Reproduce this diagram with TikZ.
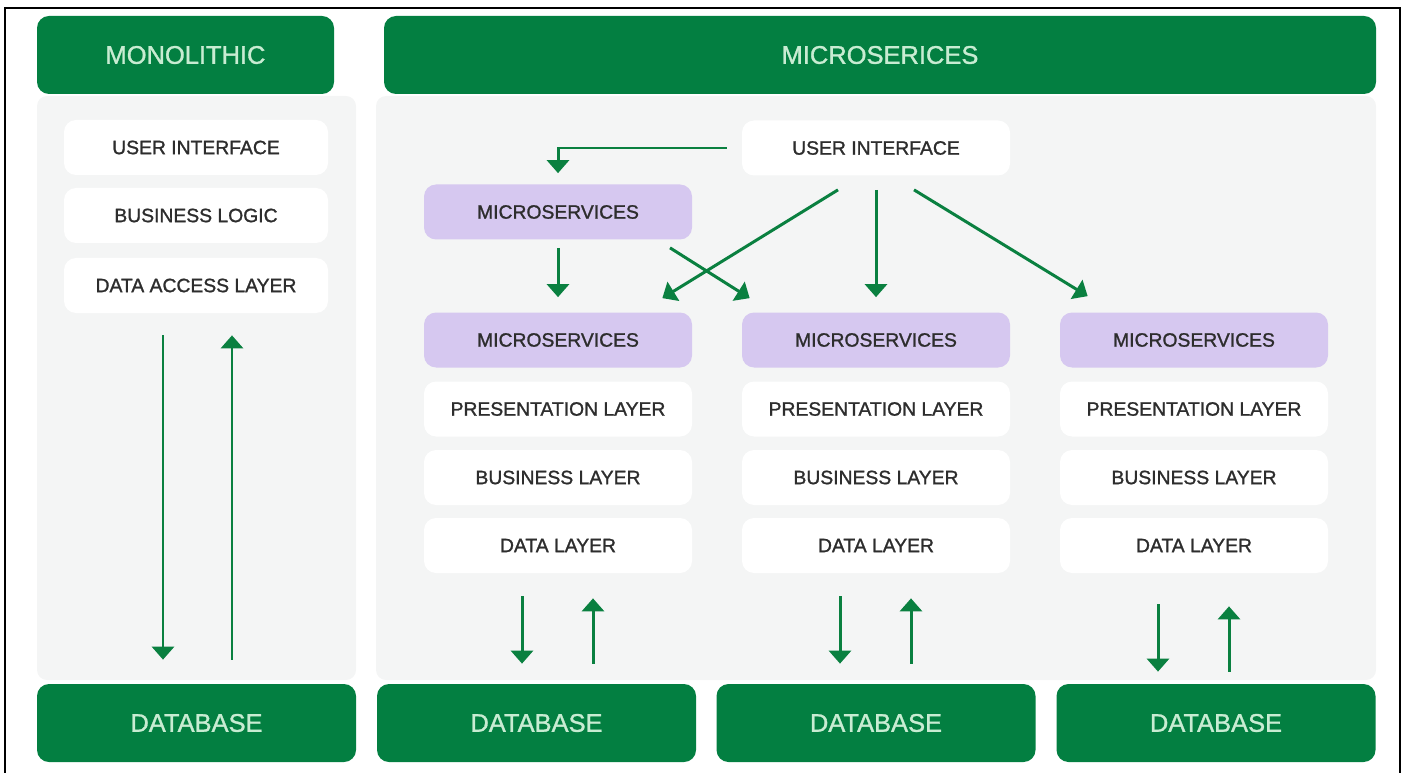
\documentclass[tikz,border=0pt]{standalone}
\usepackage{fontspec}
\setmainfont{Liberation Sans}
\newfontfamily\diagfont{Liberation Sans}[FakeBold=1.2]
\usetikzlibrary{arrows.meta}
\definecolor{hdrgreen}{RGB}{3,127,65}
\definecolor{hdrtext}{RGB}{200,236,210}
\definecolor{panelgray}{RGB}{244,245,245}
\definecolor{mspurple}{RGB}{214,200,240}
\definecolor{labelgray}{RGB}{45,45,45}
\definecolor{arrowgreen}{RGB}{10,128,64}
\newlength{\px}
\setlength{\px}{0.02cm}

\begin{document}
\begin{tikzpicture}[x=0.02cm, y=-0.02cm,
  header/.style={fill=hdrgreen, text=hdrtext, rounded corners=12\px, minimum height=78\px, inner sep=0pt, font=\diagfont\fontsize{14.5}{17}\selectfont},
  layer/.style={fill=white, text=labelgray, rounded corners=12\px, minimum width=268\px, minimum height=55\px, inner sep=0pt, font=\diagfont\fontsize{11}{13}\selectfont},
  service/.style={layer, fill=mspurple},
  flow/.style={draw=arrowgreen, line width=1.7pt, -{Triangle[length=0.26cm,width=0.44cm]}}]
  \useasboundingbox (0,0) rectangle (1405,773);
  \draw[line width=2\px] (5,773) -- (5,8) -- (1400,8) -- (1400,773);
  \fill[panelgray, rounded corners=10\px] (37,96) rectangle (356,680);
  \fill[panelgray, rounded corners=10\px] (376,96) rectangle (1376,680);

  \node[header, minimum width=297\px] (mono) at (185.5,55) {MONOLITHIC};
  \node[header, minimum width=992\px] (micro) at (880,55) {MICROSERICES};

  \node[layer, minimum width=264\px] (mui) at (196,147.5) {USER INTERFACE};
  \node[layer, minimum width=264\px] (mbl) at (196,215.5) {BUSINESS LOGIC};
  \node[layer, minimum width=264\px] (mdal) at (196,285.5) {DATA ACCESS LAYER};
  \node[header, minimum width=319\px] (db0) at (196.5,723) {DATABASE};

  \node[layer] (ui) at (876,148) {USER INTERFACE};
  \node[service] (ms0) at (558,212) {MICROSERVICES};
  \foreach \c/\x in {1/558, 2/876, 3/1194} {
    \node[service] (ms\c) at (\x,340) {MICROSERVICES};
    \node[layer] (pl\c) at (\x,409) {PRESENTATION LAYER};
    \node[layer] (bl\c) at (\x,477.5) {BUSINESS LAYER};
    \node[layer] (dl\c) at (\x,545.5) {DATA LAYER};
  }
  \foreach \c/\x in {1/536.5, 2/876, 3/1216}
    \node[header, minimum width=319\px] (db\c) at (\x,723) {DATABASE};

  \draw[flow, shorten <=22\px, shorten >=24\px] ([xshift=-33\px]mdal.south) -- ([xshift=-33\px]mdal.south |- db0.north);
  \draw[flow, shorten <=24\px, shorten >=22\px] ([xshift=36\px]mdal.south |- db0.north) -- ([xshift=36\px]mdal.south);

  \draw[flow, shorten <=15\px, shorten >=11\px] (ui.west) -| (ms0.north);
  \draw[flow, shorten <=8\px, shorten >=15\px] (ms0.south) -- (ms1.north);
  \draw[flow] ([shift={(112,8)}]ms0.south) -- ([shift={(8,-14)}]ms2.north west);
  \draw[flow] ([shift={(-38,14)}]ui.south) -- ([shift={(-30,-14)}]ms1.north east);
  \draw[flow, shorten <=14\px, shorten >=15\px] (ui.south) -- (ms2.north);
  \draw[flow] ([shift={(38,14)}]ui.south) -- ([shift={(28,-16)}]ms3.north west);

  \foreach \c/\a/\b in {1/23/20, 2/23/20, 3/31/12} {
    \draw[flow, shorten <=\a\px, shorten >=\b\px] ([xshift=-36\px]dl\c.south) -- ([xshift=-36\px]dl\c.south |- db\c.north);
    \draw[flow, shorten <=\b\px, shorten >=\a\px+2\px] ([xshift=35\px]dl\c.south |- db\c.north) -- ([xshift=35\px]dl\c.south);
  }
\end{tikzpicture}
\end{document}
